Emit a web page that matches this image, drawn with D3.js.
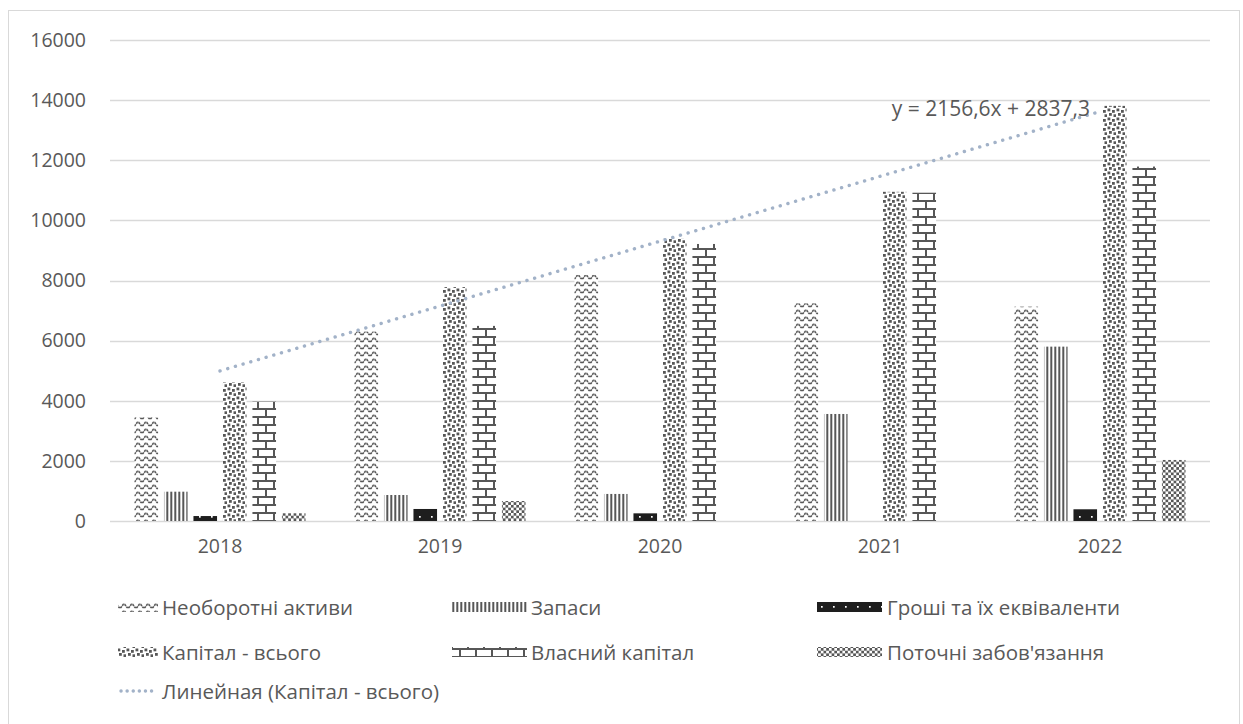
<!DOCTYPE html>
<html>
<head>
<meta charset="utf-8">
<script src="https://cdn.jsdelivr.net/npm/d3@7"></script>
<style>
  html, body { margin: 0; padding: 0; background: #fff; }
  svg { display: block; font-family: "Open Sans", "Noto Sans", sans-serif; }
</style>
</head>
<body>
<svg id="chart" width="1243" height="724"></svg>
<script>
// ---------- data ----------
const years = ["2018", "2019", "2020", "2021", "2022"];
const seriesNames = ["Необоротні активи", "Запаси", "Гроші та їх еквіваленти",
                     "Капітал - всього", "Власний капітал", "Поточні забов'язання"];
const neoborotni = [3450, 6300, 8185, 7240, 7130];
const zapasy     = [975, 865, 900, 3560, 5800];
const groshi     = [165, 400, 255, 0, 390];
const kapital    = [4610, 7780, 9385, 10950, 13810];
const vlasnyi    = [3970, 6490, 9215, 10920, 11790];
const potochni   = [256, 665, 0, 0, 2030];
const yTicks = [0, 2000, 4000, 6000, 8000, 10000, 12000, 14000, 16000];
const trendLabel = "y = 2156,6x + 2837,3";
const trendName = "Линейная (Капітал - всього)";

const seriesValues = [neoborotni, zapasy, groshi, kapital, vlasnyi, potochni];
const patternIds = ["pWave", "pVert", "pCash", "pConf", "pBrick", "pCheck"];

// ---------- layout ----------
const TXT = "#595959", GRID = "#d9d9d9", PAT = "#575757", TREND = "#a2b2c8";
const FS_AX = "19.5px", FS_LEG = "20.5px", FS_TREND = "21px";
const svg = d3.select("#chart");
const plot = { left: 110, right: 1210, top: 40, bottom: 521 };

svg.append("rect").attr("x", 8.5).attr("y", 10.5).attr("width", 1231).attr("height", 730)
  .attr("fill", "#fff").attr("stroke", GRID).attr("stroke-width", 1);

// ---------- patterns ----------
const defs = svg.append("defs");
function pat(id, w, h) {
  return defs.append("pattern").attr("id", id).attr("patternUnits", "userSpaceOnUse")
    .attr("width", w).attr("height", h);
}
// wave
let p = pat("pWave", 8, 7);
p.append("rect").attr("width", 8).attr("height", 7).attr("fill", "#fff");
p.append("path").attr("d", "M0,5.5 L1,5.5 L3.4,2.2 L4.6,2.2 L7,5.5 L8,5.5")
  .attr("fill", "none").attr("stroke", PAT).attr("stroke-width", 1.6).attr("stroke-dasharray", "2.4 0.7");
// vertical lines
p = pat("pVert", 4, 4);
p.append("rect").attr("width", 4).attr("height", 4).attr("fill", "#fff");
p.append("rect").attr("x", 0.3).attr("width", 2).attr("height", 4).attr("fill", PAT);
// cash: dark with white dots
p = pat("pCash", 12, 10);
p.append("rect").attr("width", 12).attr("height", 10).attr("fill", "#1e1e1e");
p.append("rect").attr("x", 5).attr("y", 6).attr("width", 1.7).attr("height", 1.7).attr("fill", "#fff");
// confetti
p = pat("pConf", 9, 9);
p.append("rect").attr("width", 9).attr("height", 9).attr("fill", "#fff");
[[0.5, 0.5], [5, 2], [2, 5], [6.5, 6.3]].forEach(([x, yy]) =>
  p.append("rect").attr("x", x).attr("y", yy).attr("width", 2.8).attr("height", 2.8).attr("fill", PAT));
// brick
p = pat("pBrick", 16, 16);
p.append("rect").attr("width", 16).attr("height", 16).attr("fill", "#fff");
p.append("path").attr("d", "M0,1 H16 M0,9 H16 M4,1 V9 M12,9 V17 M12,-1 V1")
  .attr("fill", "none").attr("stroke", PAT).attr("stroke-width", 2);
// checker
p = pat("pCheck", 5.4, 5.4);
p.append("rect").attr("width", 5.4).attr("height", 5.4).attr("fill", "#fff");
p.append("rect").attr("width", 2.7).attr("height", 2.7).attr("fill", PAT);
p.append("rect").attr("x", 2.7).attr("y", 2.7).attr("width", 2.7).attr("height", 2.7).attr("fill", PAT);

// ---------- scales ----------
const y = d3.scaleLinear().domain([0, 16000]).range([plot.bottom, plot.top]);
const x0 = d3.scaleBand().domain(years).range([plot.left, plot.right]).padding(0);
const x1 = d3.scaleBand().domain(d3.range(seriesNames.length)).range([0, x0.bandwidth()])
  .paddingInner(0.2).paddingOuter(0.83);

// gridlines
svg.append("g").selectAll("line").data(yTicks).join("line")
  .attr("x1", plot.left).attr("x2", plot.right)
  .attr("y1", d => Math.round(y(d)) + 0.5).attr("y2", d => Math.round(y(d)) + 0.5)
  .attr("stroke", GRID).attr("stroke-width", 1.3);

// y axis labels
const yAxis = d3.axisLeft(y).tickValues(yTicks).tickSize(0).tickPadding(0).tickFormat(d3.format("d"));
const gy = svg.append("g").attr("transform", `translate(${plot.left - 24},0)`).call(yAxis);
gy.select(".domain").remove();
gy.selectAll("text").attr("fill", TXT).style("font-size", FS_AX).style("font-family", "Open Sans");

// x axis labels
const xAxis = d3.axisBottom(x0).tickSize(0).tickPadding(0);
const gx = svg.append("g").attr("transform", `translate(0,${plot.bottom + 18})`).call(xAxis);
gx.select(".domain").remove();
gx.selectAll("text").attr("fill", TXT).style("font-size", FS_AX).style("font-family", "Open Sans");

// bars
const groups = svg.append("g").selectAll("g").data(years).join("g")
  .attr("transform", d => `translate(${x0(d)},0)`);
groups.selectAll("rect")
  .data((d, i) => seriesValues.map((vals, s) => ({ s, v: vals[i] })).filter(o => o.v > 0))
  .join("rect")
  .attr("x", d => x1(d.s)).attr("width", x1.bandwidth())
  .attr("y", d => y(d.v)).attr("height", d => y(0) - y(d.v))
  .attr("fill", d => `url(#${patternIds[d.s]})`);

// trendline (least squares on kapital)
const xs = years.map((_, i) => i + 1);
const mx = d3.mean(xs), my = d3.mean(kapital);
const slope = d3.sum(xs, (xv, i) => (xv - mx) * (kapital[i] - my)) / d3.sum(xs, xv => (xv - mx) ** 2);
const intercept = my - slope * mx;
const tx = i => x0(years[i]) + x0.bandwidth() / 2;
const trendPts = [0, years.length - 1].map(i => [tx(i), y(intercept + slope * (i + 1))]);
svg.append("path").attr("d", d3.line()(trendPts))
  .attr("fill", "none").attr("stroke", TREND).attr("stroke-width", 3.4)
  .attr("stroke-linecap", "round").attr("stroke-dasharray", "0.1 7.9");
svg.append("text").attr("x", trendPts[1][0] - 10).attr("y", trendPts[1][1] - 4)
  .attr("text-anchor", "end").attr("dominant-baseline", "central")
  .attr("fill", TXT).style("font-size", FS_TREND).text(trendLabel);

// ---------- legend ----------
const colSw = [[118, 158], [452, 527], [817, 882]];
const colTx = [162, 531, 887];
const rowY = [607, 652, 691];
const leg = svg.append("g");
seriesNames.forEach((name, s) => {
  const c = s % 3, r = Math.floor(s / 3);
  leg.append("rect").attr("x", colSw[c][0]).attr("y", rowY[r] - 5)
    .attr("width", colSw[c][1] - colSw[c][0]).attr("height", 10)
    .attr("fill", `url(#${patternIds[s]})`);
  leg.append("text").attr("x", colTx[c]).attr("y", rowY[r]).attr("dominant-baseline", "central")
    .attr("fill", TXT).style("font-size", FS_LEG).text(name);
});
leg.append("line").attr("x1", 121).attr("x2", 157).attr("y1", rowY[2]).attr("y2", rowY[2])
  .attr("stroke", TREND).attr("stroke-width", 3.4).attr("stroke-linecap", "round")
  .attr("stroke-dasharray", "0.1 6");
leg.append("text").attr("x", colTx[0]).attr("y", rowY[2]).attr("dominant-baseline", "central")
  .attr("fill", TXT).style("font-size", FS_LEG).text(trendName);
</script>
</body>
</html>
